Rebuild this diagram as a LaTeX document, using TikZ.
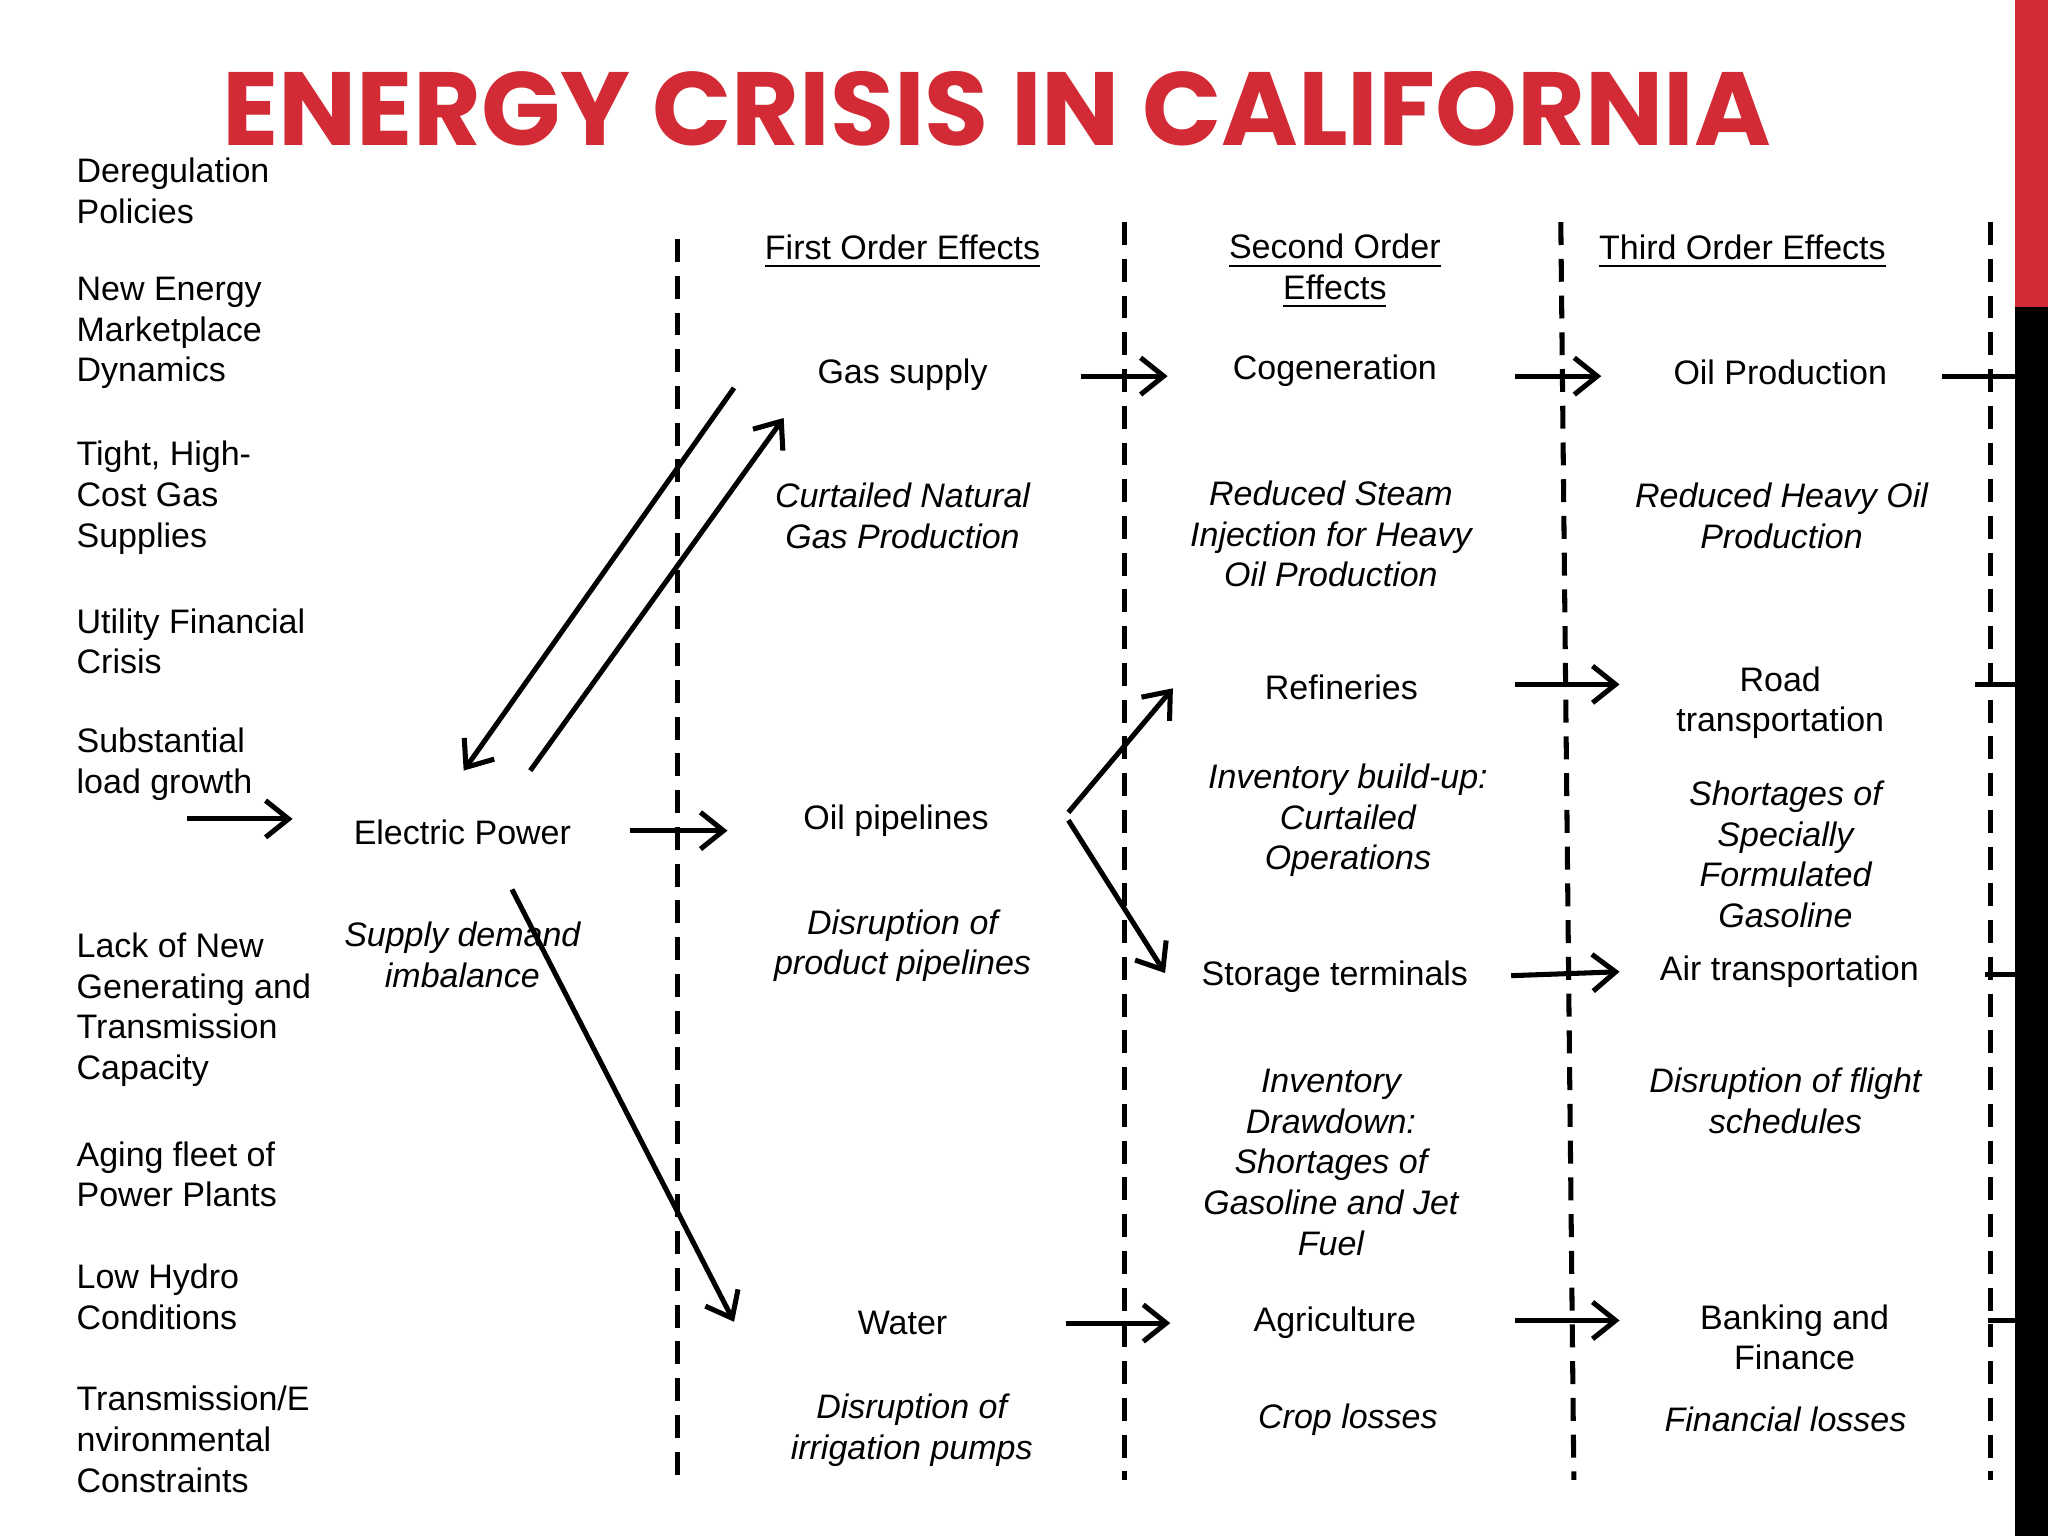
\documentclass[tikz,border=0pt]{standalone}
\usepackage{fontspec}
\setmainfont{Liberation Sans}
\newfontfamily\titlefont{Poppins}
\usetikzlibrary{arrows.meta}
\definecolor{tred}{HTML}{D22B35}
\begin{document}
\begin{tikzpicture}[x=0.01cm,y=-0.01cm,
  txt/.style={font=\fontsize{7.4pt}{8.85pt}\selectfont,align=center,inner sep=0pt},
  itx/.style={txt,font=\fontsize{7.4pt}{8.85pt}\selectfont\itshape},
  lft/.style={txt,align=left,anchor=west},
  arr/.style={line width=1.1pt,-{Straight Barb[length=5pt,width=8pt,line width=1.1pt]}},
  pl/.style={line width=1.1pt},
  dl/.style={line width=1.1pt,dash pattern=on 5pt off 3pt}]
\useasboundingbox (0,0) rectangle (1568,1176);
\fill[white] (0,0) rectangle (1568,1176);
\fill[tred] (1543,0) rectangle (1568,235);
\fill[black] (1543,235) rectangle (1568,1176);
\node[inner sep=0pt,text=tred] (title) at (763,83) {\resizebox{11.85cm}{!}{\titlefont\bfseries ENERGY CRISIS IN CALIFORNIA}};
% dashed lines
\coordinate (d1t) at (519,183); \coordinate (d1b) at (519,1133);
\coordinate (d2t) at (861,170); \coordinate (d2b) at (861,1133);
\coordinate (d3t) at (1195,170); \coordinate (d3b) at (1205,1133);
\coordinate (d4t) at (1524,170); \coordinate (d4b) at (1524,1133);
\draw[dl] (d1t)--(d1b); \draw[dl] (d2t)--(d2b); \draw[dl] (d3t)--(d3b); \draw[dl] (d4t)--(d4b);
% left column
\node[lft] (l1) at (58,146) {Deregulation\\Policies};
\node[lft] (l2) at (58,255) {New Energy\\Marketplace\\Dynamics};
\node[lft] (l3) at (58,381) {Tight, High-\\Cost Gas\\Supplies};
\node[lft] (l4) at (58,491) {Utility Financial\\Crisis};
\node[lft] (l5) at (58,585) {Substantial\\load growth};
\node[lft] (l6) at (58,773) {Lack of New\\Generating and\\Transmission\\Capacity};
\node[lft] (l7) at (58,899) {Aging fleet of\\Power Plants};
\node[lft] (l8) at (58,993) {Low Hydro\\Conditions};
\node[lft] (l9) at (58,1102) {Transmission/E\\nvironmental\\Constraints};
% headers
\node[txt] (h1) at (691,193) {\underline{First Order Effects}};
\node[txt] (h2) at (1022,208) {\underline{Second Order}\\\underline{Effects}};
\node[txt] (h3) at (1334,193) {\underline{Third Order Effects}};
% electric power
\node[txt] (ep) at (354,637) {Electric Power};
\node[itx] (sd) at (354,731) {Supply demand\\imbalance};
% col 1
\node[txt] (gas) at (691,287) {Gas supply};
\node[itx] (cng) at (691,395) {Curtailed Natural\\Gas Production};
\node[txt] (oil) at (686,628) {Oil pipelines};
\node[itx] (dpp) at (691,724) {Disruption of\\product pipelines};
\node[txt] (wat) at (691,1013) {Water};
\node[itx] (dip) at (698,1095) {Disruption of\\irrigation pumps};
% col 2
\node[txt] (cog) at (1022,284) {Cogeneration};
\node[itx] (rsi) at (1019,409) {Reduced Steam\\Injection for Heavy\\Oil Production};
\node[txt] (ref) at (1027,526) {Refineries};
\node[itx] (ibu) at (1032,628) {Inventory build-up:\\Curtailed\\Operations};
\node[txt] (sto) at (1022,748) {Storage terminals};
\node[itx] (idd) at (1019,890) {Inventory\\Drawdown:\\Shortages of\\Gasoline and Jet\\Fuel};
\node[txt] (agr) at (1022,1013) {Agriculture};
\node[itx] (crop) at (1032,1087) {Crop losses};
% col 3
\node[txt] (op) at (1363,285) {Oil Production};
\node[itx] (rho) at (1364,395) {Reduced Heavy Oil\\Production};
\node[txt] (road) at (1363,538) {Road\\transportation};
\node[itx] (ssf) at (1367,654) {Shortages of\\Specially\\Formulated\\Gasoline};
\node[txt] (air) at (1370,744) {Air transportation};
\node[itx] (dfs) at (1367,843) {Disruption of flight\\schedules};
\node[txt] (bank) at (1374,1024) {Banking and\\Finance};
\node[itx] (fin) at (1367,1087) {Financial losses};
% arrow coordinates
\coordinate (a0s) at (143,627); \coordinate (a0e) at (224,627);
\coordinate (a1s) at (562,297); \coordinate (a1e) at (355,590);
\coordinate (a2s) at (406,590); \coordinate (a2e) at (600,320);
\coordinate (a3s) at (392,681); \coordinate (a3e) at (562,1012);
\coordinate (a4s) at (482,636); \coordinate (a4e) at (557,636);
\coordinate (a5s) at (828,288); \coordinate (a5e) at (894,288);
\coordinate (a6s) at (1160,288); \coordinate (a6e) at (1226,288);
\coordinate (a7s) at (818,622); \coordinate (a7e) at (898,527);
\coordinate (a8s) at (818,628); \coordinate (a8e) at (892,745);
\coordinate (a9s) at (1160,524); \coordinate (a9e) at (1240,524);
\coordinate (a10s) at (1157,747); \coordinate (a10e) at (1240,744);
\coordinate (a11s) at (816,1013); \coordinate (a11e) at (896,1013);
\coordinate (a12s) at (1160,1011); \coordinate (a12e) at (1240,1011);
\foreach \i in {0,...,12} {\draw[arr] (a\i s) -- (a\i e);}
\coordinate (r1s) at (1487,288); \coordinate (r1e) at (1545,288);
\coordinate (r2s) at (1512,524); \coordinate (r2e) at (1545,524);
\coordinate (r3s) at (1520,746); \coordinate (r3e) at (1545,746);
\coordinate (r4s) at (1522,1011); \coordinate (r4e) at (1545,1011);
\foreach \i in {1,...,4} {\draw[pl] (r\i s) -- (r\i e);}
\end{tikzpicture}
\end{document}
